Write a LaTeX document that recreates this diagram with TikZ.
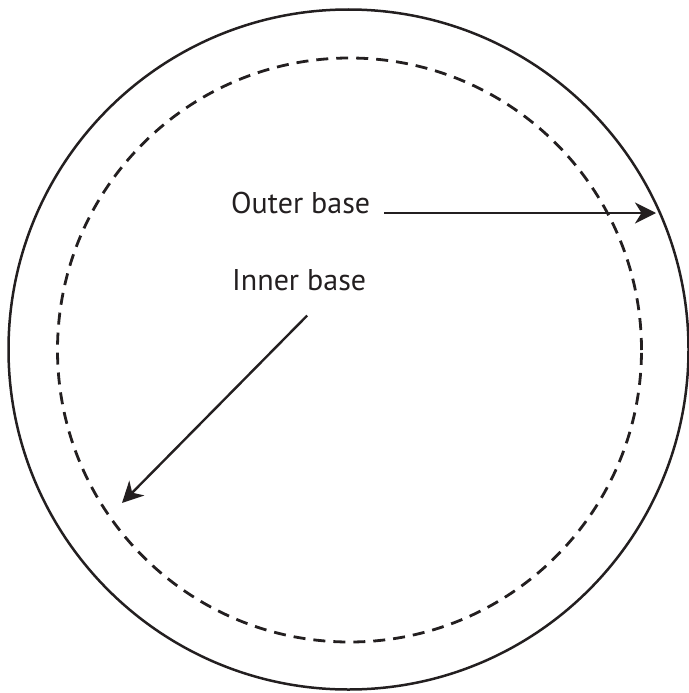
\documentclass[tikz,border=0pt]{standalone}
\usepackage{fontspec}
\setmainfont{PT Sans}
\usepackage{xcolor}
\usepackage{tikz}
\usetikzlibrary{positioning,arrows.meta,calc}
\definecolor{inkgray}{RGB}{35,31,32}

\begin{document}
\begin{tikzpicture}[
  x=1pt, y=-1pt,
  font=\fontsize{30}{36}\selectfont,
  every node/.style={inner sep=0pt, text=inkgray},
  rim/.style={draw=inkgray, line width=2.5pt},
  dashrim/.style={draw=inkgray, line width=2.8pt, dash pattern=on 12pt off 8pt},
  pointer/.style={draw=inkgray, line width=2.4pt, -{Stealth[length=21pt, width=21pt, inset=6.5pt]}}]
\useasboundingbox (0,0) rectangle (688,693);
% bases
\draw[rim] (348.5,349.5) circle[radius=340pt];
\draw[dashrim] (349.5,350) circle[radius=292pt];
% labels
\node[anchor=base west] (outer) at (231,213) {Outer base};
\node[anchor=base west] (inner) at (232,290) {Inner base};
\coordinate (outertip) at (656,213);
\coordinate (innertip) at (122,503);
% arrows
\draw[pointer] ([xshift=14pt]outer.base east) -- (outertip);
\draw[pointer] ([xshift=8pt, yshift=-25pt]inner.south) -- (innertip);
\end{tikzpicture}
\end{document}
